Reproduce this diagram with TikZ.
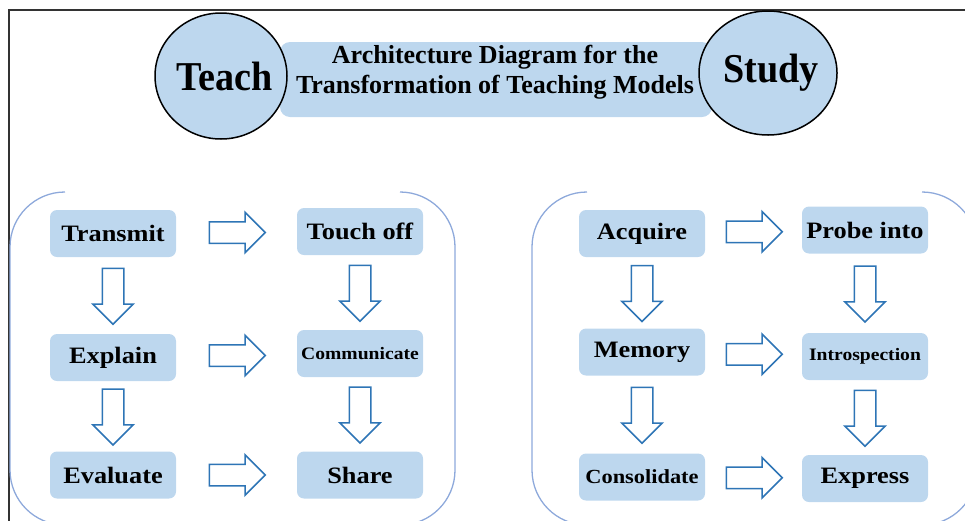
\documentclass[tikz,border=0pt]{standalone}
\usepackage{fontspec}
\setmainfont{Liberation Serif}
\newfontfamily\boxfont[FakeStretch=1.12]{Liberation Serif}
\newfontfamily\headfont[FakeStretch=0.93]{Liberation Serif}
\usetikzlibrary{shapes.arrows,shapes.geometric,calc}
\definecolor{paleblue}{HTML}{BDD7EE}
\definecolor{arrowblue}{HTML}{2E75B6}
\definecolor{groupblue}{HTML}{8EA9DB}
\definecolor{framegray}{HTML}{333333}

\begin{document}
\begin{tikzpicture}[x=1pt,y=-1pt,
  stepbox/.style={fill=paleblue, rounded corners=7pt, minimum width=126pt,
    minimum height=47pt, inner sep=0pt,
    font=\boxfont\bfseries\fontsize{23.5}{23.5}\selectfont},
  smalltext/.style={font=\boxfont\bfseries\fontsize{17.5}{17.5}\selectfont},
  midtext/.style={font=\boxfont\bfseries\fontsize{20}{20}\selectfont},
  flow/.style={single arrow, draw=arrowblue, fill=white, line width=1.5pt,
    single arrow head extend=9.5pt, minimum height=56pt, inner sep=0pt,
    anchor=tail},
  grp/.style={draw=groupblue, line width=1.3pt},
  pole/.style={ellipse, draw=black, line width=1.5pt, fill=paleblue,
    inner sep=0pt},
  headword/.style={anchor=base, font=\headfont\bfseries\fontsize{41}{41}\selectfont},
  titleline/.style={anchor=base, font=\bfseries\fontsize{26}{26}\selectfont}
]
\useasboundingbox (0,0) rectangle (965,520);
\clip (0,0) rectangle (965,520);

% outer frame
\draw[framegray, line width=2pt] (9,521) -- (9,10) -- (966,10);

% heading: banner with the two poles
\node[fill=paleblue, rounded corners=10pt, minimum width=432pt,
  minimum height=75pt, inner sep=0pt] (banner) at (496,79.5) {};
\node[titleline] (title1) at (495,63) {Architecture Diagram for the};
\node[titleline] (title2) at (495,93) {Transformation of Teaching Models};
\node[pole, minimum width=132pt, minimum height=126pt] (teach) at (221,76) {};
\node[pole, minimum width=138pt, minimum height=124pt] (study) at (768,73) {};
\node[headword] (teachlabel) at (225,90) {Teach};
\node[headword] (studylabel) at (771,82) {Study};

% group outlines (open along the top edge)
\draw[grp] (65,192) .. controls (34.6,192) and (10,216.6) .. (10,247)
  -- (10,470) .. controls (10,500.4) and (34.6,525) .. (65,525);
\draw[grp] (400,192) .. controls (430.4,192) and (455,216.6) .. (455,247)
  -- (455,470) .. controls (455,500.4) and (430.4,525) .. (400,525);
\draw[grp] (587,192) .. controls (556.6,192) and (532,216.6) .. (532,247)
  -- (532,470) .. controls (532,500.4) and (556.6,525) .. (587,525);
\draw[grp] (922,192) .. controls (952.4,192) and (977,216.6) .. (977,247)
  -- (977,470) .. controls (977,500.4) and (952.4,525) .. (922,525);

% teaching steps
\node[stepbox] (transmit) at (113,233.5) {Transmit};
\node[stepbox] (touchoff) at (360,231.5) {Touch off};
\node[stepbox] (explain) at (113,357.5) {Explain};
\node[stepbox, smalltext] (communicate) at (360,353.5) {Communicate};
\node[stepbox] (evaluate) at (113,475) {Evaluate};
\node[stepbox] (share) at (360,475) {Share};

% study steps
\node[stepbox] (acquire) at (642,233.5) {Acquire};
\node[stepbox] (probe) at (865,230) {Probe into};
\node[stepbox] (memory) at (642,352) {Memory};
\node[stepbox, smalltext] (introspection) at (865,356.5) {Introspection};
\node[stepbox, midtext] (consolidate) at (642,477) {Consolidate};
\node[stepbox] (express) at (865,478.5) {Express};

% horizontal block arrows, centred in the gap between two steps
\foreach \a/\b in {transmit/touchoff, explain/communicate, evaluate/share,
                   acquire/probe, memory/introspection, consolidate/express}
  \node[flow] (h-\a) at ($(\a.east)!0.5!(\b.west)+(-28,0)$) {\rule{0pt}{20pt}};

% vertical block arrows
\foreach \a/\b in {transmit/explain, explain/evaluate, touchoff/communicate,
                   communicate/share, acquire/memory, memory/consolidate,
                   probe/introspection, introspection/express}
  \node[flow, rotate=-90] (v-\a) at ($(\a.south)!0.5!(\b.north)+(0,-28)$) {\rule{0pt}{20pt}};
\end{tikzpicture}
\end{document}
